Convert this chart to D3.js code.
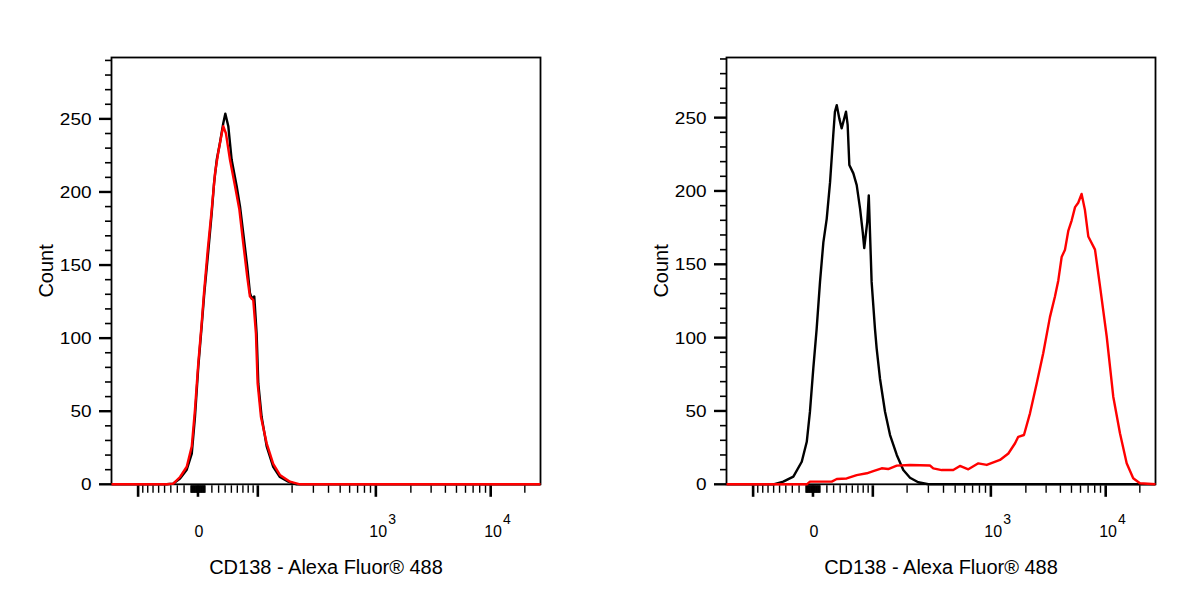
<!DOCTYPE html>
<html>
<head>
<meta charset="utf-8">
<script src="https://cdn.jsdelivr.net/npm/d3@7"></script>
<style>
  body { margin: 0; background: #fff; }
  text { font-family: "Liberation Sans", Arial, sans-serif; fill: #000; }
</style>
</head>
<body>
<svg width="1200" height="600"></svg>
<script>
// histogram data: channel (0-256 on the display) and count per channel
const leftBlackCh = [0, 33, 36.9, 40.9, 44.9, 47.9, 49.8, 51.8, 53.8, 55.4, 57.8, 59.8, 61.2, 62.8, 64.7, 66.7, 67.9, 69.7, 71.7, 74.7, 76.7, 78.6, 81.0, 82.6, 83.7, 85.2, 86.6, 87.6, 89.6, 92.6, 96.5, 100.5, 105.5, 110.5, 256];
const leftBlackCount = [0, 0, 0.5, 4, 10, 21, 46, 80.5, 108, 131, 160, 185.6, 206, 222, 233.5, 247, 253.6, 245, 222, 204, 190, 172, 149, 131, 127, 128.5, 103, 69, 46, 26, 12, 5, 1.8, 0, 0];

const leftRedCh = [0, 33, 36.9, 40.9, 44.9, 47.9, 49.8, 51.8, 53.8, 55.2, 57.4, 59.8, 61.8, 63.7, 65.8, 66.7, 68.3, 70.7, 73.7, 76.3, 78.6, 81.0, 82.6, 84.6, 86.2, 87.2, 89.2, 92.6, 96.5, 100.5, 106.5, 112.5, 256];
const leftRedCount = [0, 0, 0.5, 5, 12, 26, 51, 83, 110, 131, 160, 188, 213, 227, 240, 245, 240, 222, 204, 188, 165, 142, 128.5, 126, 103, 69, 46, 28, 14, 6.4, 1.8, 0, 0];

const rightBlackCh = [0, 28, 33.9, 39.9, 44.9, 47.9, 49.8, 51.8, 53.8, 55.8, 57.8, 59.8, 61.8, 63.7, 64.7, 65.8, 67.3, 68.7, 71.3, 72.3, 73.3, 75.7, 77.7, 79.7, 81.3, 82.2, 84.0, 84.9, 86.6, 88.6, 89.6, 91.6, 94.6, 97.6, 101.6, 105.5, 109.5, 114.4, 120.4, 256];
const rightBlackCount = [0, 0, 1.8, 5.2, 15.4, 29, 49.5, 79, 106, 138, 165, 181, 206, 238, 254, 258.5, 249.5, 242.7, 254, 245, 217.7, 212, 204, 188, 172, 161, 179, 197, 138, 106, 92.7, 72, 49.5, 33.6, 20, 9.7, 4.5, 1.4, 0, 0];

const rightRedCh = [0, 47.9, 49.8, 62.8, 65.8, 71.7, 77.7, 83.7, 87.6, 92.6, 96.5, 101.6, 109.5, 121.4, 123.4, 128.4, 135.3, 139.3, 144.3, 150.3, 155.3, 163.2, 168.2, 172.2, 174.1, 177.5, 181.1, 185.1, 189.0, 193.0, 196.0, 198.0, 200.0, 202.0, 204.0, 206.0, 208.0, 209.9, 211.9, 213.9, 215.9, 219.9, 222.9, 226.9, 230.8, 234.8, 238.8, 242.7, 246.7, 256];
const rightRedCount = [0, 0, 1.8, 1.8, 3.6, 4, 6.3, 7.5, 9, 10.9, 10.4, 12.7, 13.2, 12.8, 10.9, 9.7, 9.7, 12.5, 10.2, 14.3, 13.2, 16.6, 21, 28, 32.4, 33.6, 48.4, 68.8, 89.3, 114, 128, 139, 155, 160, 173, 180, 189, 192, 198, 187, 169, 160, 135, 100.6, 59.7, 34.8, 14.3, 4.1, 0.7, 0];

const yMajorTicks = [0, 50, 100, 150, 200, 250];
const xMajorTicks = [-100, 0, 100, 1000, 10000];
const xLabelTicks = [0, 1000, 10000];
const xTitle = "CD138 - Alexa Fluor® 488";
const yTitle = "Count";

// biexponential (logicle-like) display transform
const biexP = 1.75;
const biexC = 25.47;
const zeroChannel = 51.6;
const channelsPerDecade = 67.4;

const biex = (z) => {
  let s = Math.abs(z);
  let v = biexC * (Math.pow(10, s) - biexP * biexP * Math.pow(10, -s / biexP) + biexP * biexP - 1);
  return z < 0 ? -v : v;
};

const valueToChannel = (v) => {
  let lo = -3, hi = 6;
  for (let i = 0; i < 60; i++) {
    let mid = (lo + hi) / 2;
    if (biex(mid) < v) lo = mid; else hi = mid;
  }
  return zeroChannel + channelsPerDecade * (lo + hi) / 2;
};

// minor tick values: -90..-10, -9..-1, 1..9, 10..90, 200..900, 2000..9000, 20000
let xMinorTicks = [];
for (let k = 1; k <= 9; k++) {
  xMinorTicks.push(-k * 10, -k, k, k * 10);
  if (k > 1) xMinorTicks.push(k * 100, k * 1000);
}
xMinorTicks.push(20000);

const svg = d3.select("svg");

const drawPanel = (offsetX, yMax, curves) => {
  let left = 111.5 + offsetX, right = 540.5 + offsetX;
  let top = 57.5, bottom = 484.3;

  let x = d3.scaleLinear().domain([0, 256]).range([left, right]);
  let y = d3.scaleLinear().domain([0, yMax]).range([bottom, top]);

  let g = svg.append("g");

  // x ticks
  let minorCh = xMinorTicks.map(valueToChannel).filter(c => c >= 0 && c <= 256);
  let majorCh = xMajorTicks.map(valueToChannel).filter(c => c >= 0 && c <= 256);

  g.selectAll(".xminor")
    .data(minorCh)
    .enter()
    .append("line")
    .attr("x1", d => x(d)).attr("x2", d => x(d))
    .attr("y1", bottom + 1).attr("y2", bottom + 8.5)
    .attr("stroke", "#000").attr("stroke-width", 1.4);

  g.selectAll(".xmajor")
    .data(majorCh)
    .enter()
    .append("line")
    .attr("x1", d => x(d)).attr("x2", d => x(d))
    .attr("y1", bottom + 1).attr("y2", bottom + 12.5)
    .attr("stroke", "#000").attr("stroke-width", 2.6);

  // y ticks
  let yMinor = d3.range(10, yMax, 10).filter(v => v % 50 != 0);
  g.selectAll(".yminor")
    .data(yMinor)
    .enter()
    .append("line")
    .attr("x1", left - 6.5).attr("x2", left)
    .attr("y1", d => y(d)).attr("y2", d => y(d))
    .attr("stroke", "#000").attr("stroke-width", 1.6);

  g.selectAll(".ymajor")
    .data(yMajorTicks)
    .enter()
    .append("line")
    .attr("x1", left - 12.5).attr("x2", left)
    .attr("y1", d => y(d)).attr("y2", d => y(d))
    .attr("stroke", "#000").attr("stroke-width", 2.4);

  // y tick labels, slightly wide as in the original
  g.selectAll(".ylabel")
    .data(yMajorTicks)
    .enter()
    .append("text")
    .attr("transform", d => `translate(${left - 20}, ${y(d)}) scale(1.15, 1)`)
    .attr("dy", "0.36em")
    .attr("text-anchor", "end")
    .style("font-size", "16.5px")
    .text(d => d);

  // x tick labels
  g.selectAll(".xlabel")
    .data(xLabelTicks)
    .enter()
    .append("text")
    .attr("x", d => d == 0 ? x(valueToChannel(d)) + 1 : x(valueToChannel(d)) - 6.5)
    .attr("y", 536.7)
    .attr("text-anchor", d => d == 0 ? "middle" : "start")
    .style("font-size", "16px")
    .each(function (d) {
      let t = d3.select(this);
      if (d == 0) {
        t.text("0");
      } else {
        t.append("tspan").text("10");
        t.append("tspan")
          .attr("dy", -13)
          .attr("dx", 1)
          .style("font-size", "14px")
          .text(Math.round(Math.log10(d)));
      }
    });

  // axis titles
  g.append("text")
    .attr("transform", `translate(${left - 59}, ${(top + bottom) / 2}) rotate(-90)`)
    .attr("text-anchor", "middle")
    .style("font-size", "20px")
    .text(yTitle);

  g.append("text")
    .attr("x", (left + right) / 2)
    .attr("y", 574)
    .attr("text-anchor", "middle")
    .style("font-size", "20px")
    .text(xTitle);

  // histograms
  let line = d3.line()
    .x(d => x(d[0]))
    .y(d => y(d[1]));

  // frame
  g.append("rect")
    .attr("x", left).attr("y", top)
    .attr("width", right - left).attr("height", bottom - top)
    .attr("fill", "none")
    .attr("stroke", "#000")
    .attr("stroke-width", 1.8);

  curves.forEach(c => {
    g.append("path")
      .datum(d3.zip(c.ch, c.count))
      .attr("fill", "none")
      .attr("stroke", c.color)
      .attr("stroke-width", 2.4)
      .attr("stroke-linejoin", "round")
      .attr("d", line);
  });
};

drawPanel(0, 292, [
  { ch: leftBlackCh, count: leftBlackCount, color: "#000000" },
  { ch: leftRedCh, count: leftRedCount, color: "#ff0000" }
]);

drawPanel(615, 291, [
  { ch: rightBlackCh, count: rightBlackCount, color: "#000000" },
  { ch: rightRedCh, count: rightRedCount, color: "#ff0000" }
]);
</script>
</body>
</html>
